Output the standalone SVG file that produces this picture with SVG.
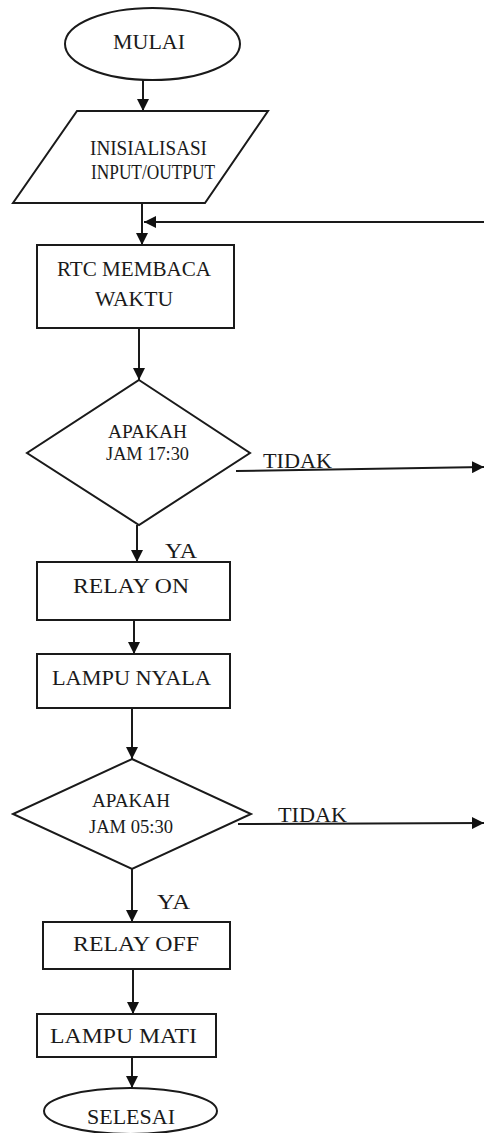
<svg xmlns="http://www.w3.org/2000/svg" width="484" height="1133" viewBox="0 0 484 1133">
  <style>
    .shape { fill: #ffffff; stroke: #1a1a1a; stroke-width: 2; }
    .edge { fill: none; stroke: #1a1a1a; stroke-width: 2; }
    .label { font-family: "Liberation Serif", "Times New Roman", serif; fill: #1a1a1a; }
  </style>
  <defs>
    <marker id="arrow" markerUnits="userSpaceOnUse" markerWidth="12" markerHeight="12" viewBox="0 0 12 12" refX="12" refY="6" orient="auto">
      <path d="M0,0 L12,6 L0,12 Z" fill="#111111"/>
    </marker>
  </defs>

  <rect width="484" height="1133" fill="#ffffff"/>

  <!-- connectors -->
  <g id="connectors">
    <line class="edge" x1="143" y1="80" x2="143" y2="111" marker-end="url(#arrow)"/>
    <line class="edge" x1="142" y1="203" x2="142" y2="245" marker-end="url(#arrow)"/>
    <line class="edge" x1="484" y1="222" x2="144" y2="222" marker-end="url(#arrow)"/>
    <line class="edge" x1="139" y1="328" x2="139" y2="380" marker-end="url(#arrow)"/>
    <line class="edge" x1="236" y1="471" x2="484" y2="467" marker-end="url(#arrow)"/>
    <line class="edge" x1="137" y1="525" x2="137" y2="562" marker-end="url(#arrow)"/>
    <line class="edge" x1="134" y1="620" x2="134" y2="654" marker-end="url(#arrow)"/>
    <line class="edge" x1="132" y1="708" x2="132" y2="759" marker-end="url(#arrow)"/>
    <line class="edge" x1="238" y1="824" x2="484" y2="823" marker-end="url(#arrow)"/>
    <line class="edge" x1="132" y1="869" x2="132" y2="922" marker-end="url(#arrow)"/>
    <line class="edge" x1="133" y1="969" x2="133" y2="1014" marker-end="url(#arrow)"/>
    <line class="edge" x1="132" y1="1057" x2="132" y2="1088" marker-end="url(#arrow)"/>
    <text class="label" x="263" y="468" font-size="21" textLength="69" lengthAdjust="spacingAndGlyphs">TIDAK</text>
    <text class="label" x="165" y="558" font-size="22" textLength="32" lengthAdjust="spacingAndGlyphs">YA</text>
    <text class="label" x="278" y="822" font-size="21" textLength="69" lengthAdjust="spacingAndGlyphs">TIDAK</text>
    <text class="label" x="157" y="909" font-size="22" textLength="33" lengthAdjust="spacingAndGlyphs">YA</text>
  </g>

  <!-- start -->
  <g id="mulai">
    <ellipse class="shape" cx="152.5" cy="44" rx="87.5" ry="36"/>
    <text class="label" x="113" y="49" font-size="22" textLength="72" lengthAdjust="spacingAndGlyphs">MULAI</text>
  </g>

  <!-- initialisation (input/output) -->
  <g id="inisialisasi">
    <polygon class="shape" points="77,111 268,111 205,203 13,203"/>
    <text class="label" x="90" y="155" font-size="20" textLength="117" lengthAdjust="spacingAndGlyphs">INISIALISASI</text>
    <text class="label" x="91" y="179" font-size="20" textLength="124" lengthAdjust="spacingAndGlyphs">INPUT/OUTPUT</text>
  </g>

  <!-- read clock -->
  <g id="rtc">
    <rect class="shape" x="37" y="245" width="197" height="83"/>
    <text class="label" x="57" y="276" font-size="22" textLength="154" lengthAdjust="spacingAndGlyphs">RTC MEMBACA</text>
    <text class="label" x="95" y="306" font-size="22" textLength="78" lengthAdjust="spacingAndGlyphs">WAKTU</text>
  </g>

  <!-- decision 17:30 -->
  <g id="cek-1730">
    <polygon class="shape" points="139,380 250,453 139,525 27,453"/>
    <text class="label" x="108" y="438" font-size="18" textLength="79" lengthAdjust="spacingAndGlyphs">APAKAH</text>
    <text class="label" x="106" y="460" font-size="18" textLength="83" lengthAdjust="spacingAndGlyphs">JAM 17:30</text>
  </g>

  <g id="relay-on">
    <rect class="shape" x="37" y="562" width="193" height="58"/>
    <text class="label" x="73" y="593" font-size="22" textLength="116" lengthAdjust="spacingAndGlyphs">RELAY ON</text>
  </g>

  <g id="lampu-nyala">
    <rect class="shape" x="37" y="654" width="193" height="54"/>
    <text class="label" x="52" y="685" font-size="22" textLength="159" lengthAdjust="spacingAndGlyphs">LAMPU NYALA</text>
  </g>

  <!-- decision 05:30 -->
  <g id="cek-0530">
    <polygon class="shape" points="132,759 251,814 132,869 13,814"/>
    <text class="label" x="92" y="807" font-size="18" textLength="78" lengthAdjust="spacingAndGlyphs">APAKAH</text>
    <text class="label" x="89" y="833" font-size="18" textLength="84" lengthAdjust="spacingAndGlyphs">JAM 05:30</text>
  </g>

  <g id="relay-off">
    <rect class="shape" x="43" y="922" width="187" height="47"/>
    <text class="label" x="73" y="951" font-size="22" textLength="126" lengthAdjust="spacingAndGlyphs">RELAY OFF</text>
  </g>

  <g id="lampu-mati">
    <rect class="shape" x="37" y="1014" width="179" height="43"/>
    <text class="label" x="50" y="1043" font-size="22" textLength="147" lengthAdjust="spacingAndGlyphs">LAMPU MATI</text>
  </g>

  <!-- end -->
  <g id="selesai">
    <ellipse class="shape" cx="130.5" cy="1111" rx="86.5" ry="23"/>
    <text class="label" x="87" y="1124" font-size="22" textLength="88" lengthAdjust="spacingAndGlyphs">SELESAI</text>
  </g>
</svg>
